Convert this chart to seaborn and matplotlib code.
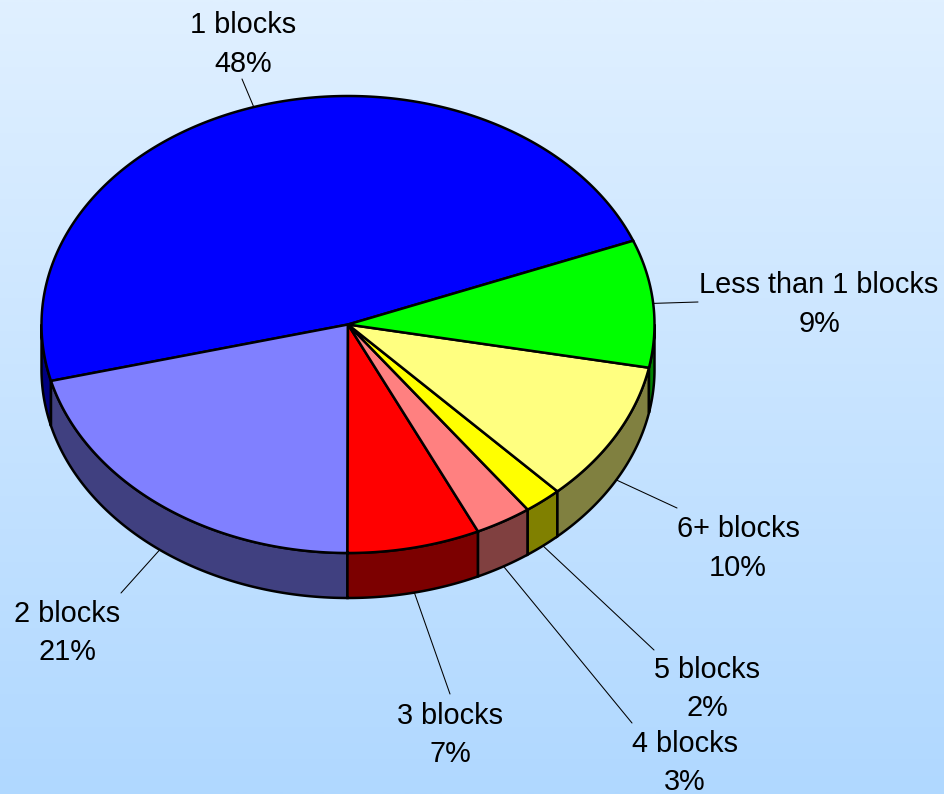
import numpy as np
import matplotlib
matplotlib.use("Agg")
import matplotlib.pyplot as plt
import seaborn as sns

# Share of records by block count (percent), listed counter-clockwise
categories = ["1 blocks", "2 blocks", "3 blocks", "4 blocks",
              "5 blocks", "6+ blocks", "Less than 1 blocks"]
shares = [48, 21, 7, 3, 2, 10, 9]
top_colors = ["#0000FF", "#8080FF", "#FF0000", "#FF8080",
              "#FFFF00", "#FFFF80", "#00FF00"]
side_colors = ["#000080", "#404080", "#7C0000", "#804040",
               "#808000", "#808040", "#008000"]

# Label placement (pixel space): centre x and first-line baseline, plus leader tip
label_pos = [(243, 33), (67, 622), (450, 724), (685, 752),
             (707, 678), (738, 537), (819, 293)]
leader_tip = [(242, 79), (121, 593), (450, 694), (632, 723),
              (654, 650), (677, 508), (698, 302)]

W, H, DPI = 944, 794, 100
CX, CY = 348.0, 324.5        # pie centre
RX, RY = 306.5, 228.5        # top ellipse radii
DEPTH = 45.0                 # thickness of the disc
START = 21.5                 # start angle, degrees
LINE_GAP = 38.5              # distance between label lines
FONT_SIZE = 20.8

sns.set_theme(style="white")
plt.rcParams["font.family"] = ["Liberation Sans", "DejaVu Sans"]

fig = plt.figure(figsize=(W / DPI, H / DPI), dpi=DPI)
ax = fig.add_axes([0, 0, 1, 1])
ax.set_xlim(0, W)
ax.set_ylim(H, 0)
ax.axis("off")

# soft vertical background gradient
top_rgb = np.array([224, 240, 255]) / 255
bot_rgb = np.array([176, 216, 255]) / 255
t = np.linspace(0, 1, 256)[:, None, None]
grad = top_rgb * (1 - t) + bot_rgb * t
ax.imshow(grad, extent=[0, W, H, 0], aspect="auto", zorder=0, interpolation="bilinear")


def ellipse_pt(deg, dy=0.0):
    r = np.radians(deg)
    return CX + RX * np.cos(r), CY - RY * np.sin(r) + dy


fracs = np.array(shares, dtype=float) / sum(shares)
bounds = START + 360 * np.concatenate([[0], np.cumsum(fracs)])

edge_kw = dict(edgecolor="black", linewidth=1.8, joinstyle="miter")

for i, cat in enumerate(categories):
    a0, a1 = bounds[i], bounds[i + 1]

    # visible front wall (lower half of the ellipse)
    for lo, hi in [(180, 360), (540, 720)]:
        s0, s1 = max(a0, lo), min(a1, hi)
        if s1 > s0:
            ang = np.linspace(s0, s1, 120)
            xt, yt = ellipse_pt(ang)
            xb, yb = ellipse_pt(ang[::-1], DEPTH)
            ax.fill(np.concatenate([xt, xb]), np.concatenate([yt, yb]),
                    facecolor=side_colors[i], zorder=2, **edge_kw)

    # top face
    ang = np.linspace(a0, a1, 240)
    xs, ys = ellipse_pt(ang)
    ax.fill(np.concatenate([[CX], xs]), np.concatenate([[CY], ys]),
            facecolor=top_colors[i], zorder=3, **edge_kw)

    # leader line from the slice rim to its label
    mid = (a0 + a1) / 2 % 360
    dy = DEPTH if 180 < mid < 360 else 0.0
    px, py = ellipse_pt(mid, dy)
    tx, ty = leader_tip[i]
    ax.plot([px, tx], [py, ty], color="black", linewidth=0.75, zorder=4)

    lx, ly = label_pos[i]
    ax.text(lx, ly, cat, ha="center", va="baseline", fontsize=FONT_SIZE,
            color="black", zorder=5)
    ax.text(lx, ly + LINE_GAP, f"{shares[i]}%", ha="center", va="baseline",
            fontsize=FONT_SIZE, color="black", zorder=5)

fig.savefig("out.png", dpi=DPI)
